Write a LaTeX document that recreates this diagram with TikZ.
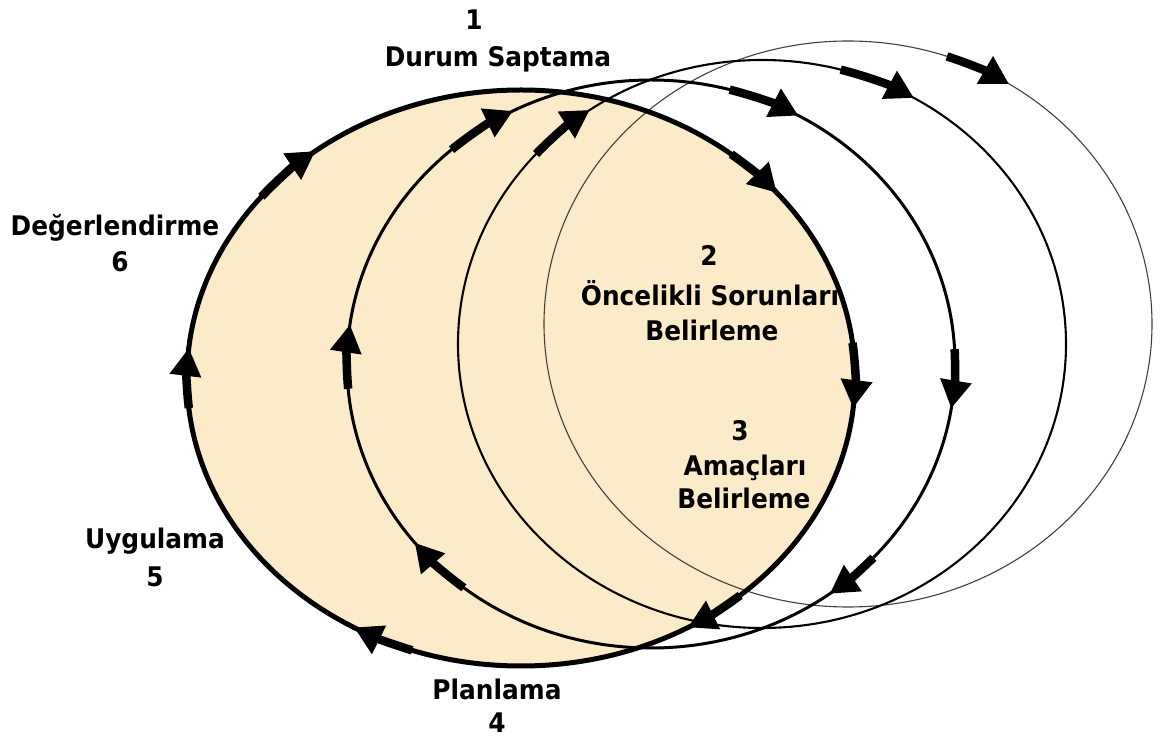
\documentclass[tikz,border=0pt]{standalone}
\usepackage{fontspec}
\setmainfont{DejaVu Sans}[FakeStretch=0.92]
\usetikzlibrary{arrows.meta,calc}
\definecolor{beige}{RGB}{252,235,200}
\tikzset{
  lbl/.style={font=\bfseries\fontsize{27}{32}\selectfont, anchor=base, inner sep=0pt},
  arr/.style={line width=8.5pt, -{Triangle[length=28pt,width=30pt]}},
  ringA/.style={line width=5pt},
  ringB/.style={line width=3pt},
  ringC/.style={line width=2.1pt},
  ringD/.style={line width=1.1pt, black!75},
}
\begin{document}
\begin{tikzpicture}[x=1pt,y=1pt]
\useasboundingbox (0,0) rectangle (1165,742);
\coordinate (cA) at (521,364);
\coordinate (cB) at (651,378);
\coordinate (cC) at (762,398);
\coordinate (cD) at (848,418);

% filled main cycle
\fill[beige] (cA) ellipse [x radius=334pt, y radius=288pt];
% outer cycles
\draw[ringD] (cD) ellipse [x radius=304pt, y radius=283pt];
\draw[ringC] (cC) ellipse [x radius=304pt, y radius=284pt];
\draw[ringB] (cB) ellipse [x radius=304pt, y radius=284pt];
\draw[ringA] (cA) ellipse [x radius=334pt, y radius=288pt];

% arrows on A
\foreach \s/\e in {186/174, 141/128, 51/40, 7/-6, -49/-60, -109/-120}
  \draw[arr] ($(cA)+(\s:334pt and 288pt)$) arc[start angle=\s, end angle=\e, x radius=334pt, y radius=288pt];
% arrows on B
\foreach \s/\e in {185/172, 131/117, 75/61, 3/-9, -43/-54, -128/-141}
  \draw[arr] ($(cB)+(\s:304pt and 284pt)$) arc[start angle=\s, end angle=\e, x radius=304pt, y radius=284pt];
% arrows on C
\foreach \s/\e in {138/124.5, 75/60}
  \draw[arr] ($(cC)+(\s:304pt and 284pt)$) arc[start angle=\s, end angle=\e, x radius=304pt, y radius=284pt];
% arrow on D
\draw[arr] ($(cD)+(71:304pt and 283pt)$) arc[start angle=71, end angle=58, x radius=304pt, y radius=283pt];

% labels
\node[lbl] (n1) at (474,712) {1};
\node[lbl] (t1) at (498,675) {Durum Saptama};
\node[lbl] (n2) at (709,476) {2};
\node[lbl] (t2a) at (710,436) {Öncelikli Sorunları};
\node[lbl] (t2b) at (712,401) {Belirleme};
\node[lbl] (n3) at (740,301) {3};
\node[lbl] (t3a) at (745,266) {Amaçları};
\node[lbl] (t3b) at (744,233) {Belirleme};
\node[lbl] (t4) at (497,42) {Planlama};
\node[lbl] (n4) at (497,10) {4};
\node[lbl] (t5) at (155,193) {Uygulama};
\node[lbl] (n5) at (155,155) {5};
\node[lbl] (t6) at (115,506) {Değerlendirme};
\node[lbl] (n6) at (120,470) {6};
\end{tikzpicture}
\end{document}
